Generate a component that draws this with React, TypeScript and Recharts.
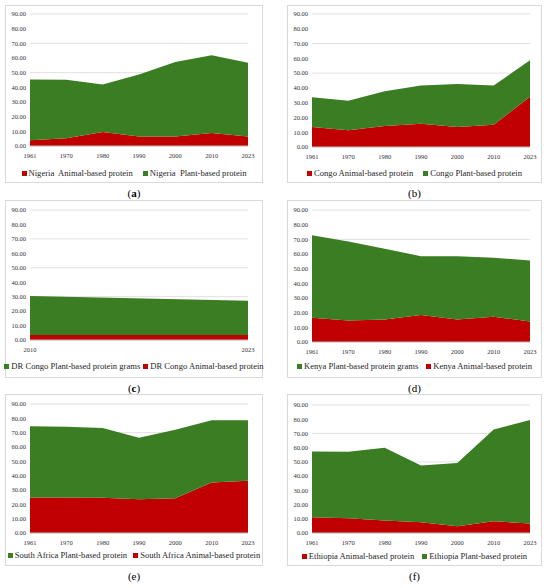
import React from "react";
import { Area, AreaChart, CartesianGrid, XAxis, YAxis } from "recharts";

const years = ["1961", "1970", "1980", "1990", "2000", "2010", "2023"];
const drcYears = ["2010", "2023"];
const yTicks = [0, 10, 20, 30, 40, 50, 60, 70, 80, 90];

const nigeriaAnimal = [3.9, 5.3, 9.5, 6.5, 6.5, 8.8, 6.5];
const nigeriaPlant = [41.4, 39.8, 32.4, 42.3, 50.7, 53.0, 50.3];
const congoAnimal = [13.5, 11.4, 14.2, 15.8, 13.5, 15.1, 34.0];
const congoPlant = [20.1, 19.9, 23.5, 25.8, 29.2, 26.5, 24.7];
const drcAnimal = [3.5, 3.5];
const drcPlant = [27.0, 23.7];
const kenyaAnimal = [16.5, 14.7, 15.4, 18.4, 15.4, 17.2, 14.0];
const kenyaPlant = [56.3, 53.9, 48.2, 40.1, 43.1, 40.2, 41.6];
const saAnimal = [24.7, 24.7, 24.6, 23.6, 24.2, 35.2, 36.4];
const saPlant = [49.8, 49.5, 48.7, 42.9, 47.9, 43.5, 42.3];
const ethAnimal = [11.1, 10.4, 8.8, 7.6, 4.7, 8.3, 6.6];
const ethPlant = [46.2, 46.7, 51.2, 39.8, 44.6, 64.4, 72.8];

const RED = "#C00000";
const GREEN = "#3A7D22";
const FONT = "'Liberation Serif', 'DejaVu Serif', serif";

interface PanelProps {
  x: number;
  y: number;
  w: number;
  h: number;
  plotTop: number;
  plotBottom: number;
  right: number;
  legendY: number;
  cats: string[];
  animal: number[];
  plant: number[];
  animalLabel: string;
  plantLabel: string;
  animalFirst: boolean;
  legendGap: number;
  caption: string;
  captionBold: boolean;
}

function Panel(p: PanelProps) {
  const data = p.cats.map((c, i) => ({ year: c, animal: p.animal[i], plant: p.plant[i] }));
  const items = [
    { label: p.animalLabel, color: RED },
    { label: p.plantLabel, color: GREEN },
  ];
  if (!p.animalFirst) items.reverse();

  return (
    <>
      <div
        style={{
          position: "absolute",
          left: p.x,
          top: p.y,
          width: p.w,
          height: p.h,
          border: "1px solid #D9D9D9",
          boxSizing: "border-box",
        }}
      >
        <div style={{ position: "absolute", left: -1, top: -1 }}>
          <AreaChart
            width={p.w}
            height={p.plotBottom + 20}
            data={data}
            margin={{ top: p.plotTop, right: p.right, left: 0, bottom: 0 }}
          >
            <CartesianGrid vertical={false} stroke="#D9D9D9" strokeWidth={0.8} />
            <XAxis
              dataKey="year"
              height={20}
              tickSize={0}
              tickMargin={7}
              axisLine={{ stroke: "#BFBFBF" }}
              tick={{ fill: "#333333", fontSize: 6.5, fontFamily: FONT }}
            />
            <YAxis
              width={25}
              domain={[0, 90]}
              ticks={yTicks}
              tickSize={0}
              tickMargin={4}
              axisLine={false}
              tickFormatter={(v: number) => v.toFixed(2)}
              tick={{ fill: "#333333", fontSize: 6.5, fontFamily: FONT }}
            />
            <Area
              type="linear"
              dataKey="animal"
              stackId="a"
              fill={RED}
              fillOpacity={1}
              stroke="none"
              isAnimationActive={false}
            />
            <Area
              type="linear"
              dataKey="plant"
              stackId="a"
              fill={GREEN}
              fillOpacity={1}
              stroke="none"
              isAnimationActive={false}
            />
          </AreaChart>
        </div>
        <div
          style={{
            position: "absolute",
            left: 0,
            width: p.w - 2,
            top: p.legendY - 6,
            display: "flex",
            justifyContent: "center",
            gap: p.legendGap,
            fontFamily: FONT,
            fontSize: 8.6,
            lineHeight: "12px",
            color: "#262626",
            whiteSpace: "pre",
          }}
        >
          {items.map((it) => (
            <div key={it.label} style={{ display: "flex", alignItems: "center" }}>
              <span
                style={{ width: 5, height: 5, background: it.color, marginRight: 2, display: "inline-block" }}
              />
              <span>{it.label}</span>
            </div>
          ))}
        </div>
      </div>
      <div
        style={{
          position: "absolute",
          left: p.x,
          width: p.w,
          top: p.y + p.h + 3,
          textAlign: "center",
          fontFamily: FONT,
          fontSize: 11,
          lineHeight: "14px",
          color: "#000",
        }}
      >
        (<span style={{ fontWeight: p.captionBold ? "bold" : "normal" }}>{p.caption}</span>)
      </div>
    </>
  );
}

export default function App() {
  return (
    <div
      style={{ position: "absolute", left: 0, top: 0, width: 550, height: 588, background: "#fff", overflow: "hidden" }}
    >
      <Panel
        x={5} y={5} w={258} h={178} plotTop={9} plotBottom={141} right={15} legendY={167}
        cats={years} animal={nigeriaAnimal} plant={nigeriaPlant}
        animalLabel="Nigeria  Animal-based protein" plantLabel="Nigeria  Plant-based protein"
        animalFirst legendGap={10} caption="a" captionBold
      />
      <Panel
        x={287} y={5} w={255} h={178} plotTop={9} plotBottom={142} right={12} legendY={167}
        cats={years} animal={congoAnimal} plant={congoPlant}
        animalLabel="Congo Animal-based protein" plantLabel="Congo Plant-based protein"
        animalFirst legendGap={10} caption="b" captionBold={false}
      />
      <Panel
        x={5} y={200} w={258} h={178} plotTop={10} plotBottom={140} right={15} legendY={165}
        cats={drcYears} animal={drcAnimal} plant={drcPlant}
        animalLabel="DR Congo Animal-based protein" plantLabel="DR Congo Plant-based protein grams"
        animalFirst={false} legendGap={3} caption="c" captionBold
      />
      <Panel
        x={287} y={200} w={255} h={178} plotTop={10} plotBottom={142} right={12} legendY={165}
        cats={years} animal={kenyaAnimal} plant={kenyaPlant}
        animalLabel="Kenya Animal-based protein" plantLabel="Kenya Plant-based protein grams"
        animalFirst={false} legendGap={8} caption="d" captionBold={false}
      />
      <Panel
        x={5} y={394} w={258} h={172} plotTop={10} plotBottom={139} right={15} legendY={160}
        cats={years} animal={saAnimal} plant={saPlant}
        animalLabel="South Africa Animal-based protein" plantLabel="South Africa Plant-based protein"
        animalFirst={false} legendGap={6} caption="e" captionBold={false}
      />
      <Panel
        x={287} y={394} w={255} h={172} plotTop={11} plotBottom={139} right={12} legendY={161}
        cats={years} animal={ethAnimal} plant={ethPlant}
        animalLabel="Ethiopia Animal-based protein" plantLabel="Ethiopia Plant-based protein"
        animalFirst legendGap={8} caption="f" captionBold={false}
      />
    </div>
  );
}
